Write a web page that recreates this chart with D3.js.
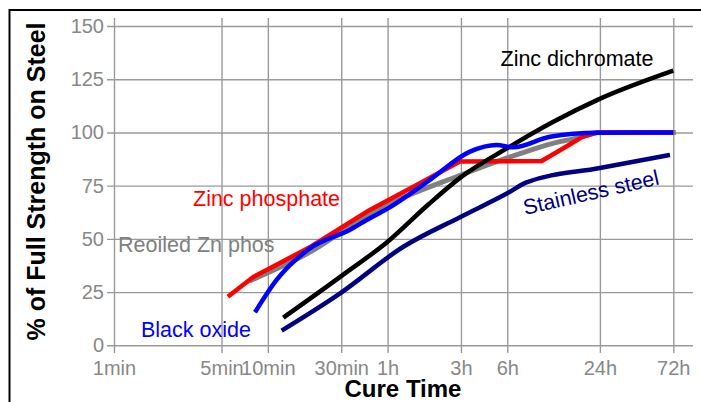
<!DOCTYPE html>
<html>
<head>
<meta charset="utf-8">
<script src="https://cdn.jsdelivr.net/npm/d3@7"></script>
<style>
  html, body { margin: 0; padding: 0; background: #fff; }
  svg { display: block; }
  text { font-family: "Liberation Sans", Arial, Helvetica, sans-serif; }
</style>
</head>
<body>
<svg id="chart" width="701" height="402"></svg>
<script>
// ---- data (time in minutes, value in % of full strength) ----
const xTickValues = [1, 5, 10, 30, 60, 180, 360, 1440, 4320];
const xTickLabels = ["1min", "5min", "10min", "30min", "1h", "3h", "6h", "24h", "72h"];
const yTickValues = [0, 25, 50, 75, 100, 125, 150];

const reoiledTimes  = [7.85, 19, 46, 180, 360, 435, 682, 1069, 1400, 4320];
const reoiledValues = [30.7, 44, 62, 80, 88, 90, 94.5, 97.7, 100, 100];

const zincPhosTimes  = [5.5, 6.5, 8, 11, 19, 46, 100, 177, 602, 900, 1100, 1400, 4320];
const zincPhosValues = [22.8, 26.9, 32, 37.3, 46.3, 63.6, 76.6, 86.3, 86.6, 94, 97.8, 100, 100];

const stainlessTimes  = [12.3, 29.5, 76, 180, 360, 480, 1440, 4110];
const stainlessValues = [6.9, 24.4, 46.3, 60.4, 71.4, 76.5, 83.3, 89.4];

const dichromateTimes  = [12.6, 30, 62, 110, 180, 360, 717, 1390, 4320];
const dichromateValues = [13, 32.5, 49.5, 66, 79, 92.6, 105, 115.3, 129];

const blackOxideTimes  = [8.25, 11.4, 18.8, 34, 46, 62, 113, 206, 307, 394, 682, 1390, 4320];
const blackOxideValues = [15.5, 30.7, 45.6, 54.2, 59.7, 64.8, 77.7, 91, 94.1, 93, 98, 99.9, 100];

const seriesNames  = ["Reoiled Zn phos", "Zinc phosphate", "Stainless steel", "Zinc dichromate", "Black oxide"];
const seriesColors = ["#808080", "#ff0000", "#000080", "#000000", "#0000ff"];

// ---- layout ----
const svg = d3.select("#chart");
const x = d3.scaleLog().domain([1, 4320]).range([114, 673.3]);
const y = d3.scaleLinear().domain([0, 150]).range([345.3, 26]);
const gridLeft = 107, gridRight = 693, gridTop = 18, gridBottom = 353;

// outer frame
svg.append("rect")
  .attr("x", 9.5).attr("y", 10).attr("width", 720).attr("height", 420)
  .attr("fill", "none").attr("stroke", "#000").attr("stroke-width", 2);

// y axis with gridlines
const yAxis = d3.axisLeft(y).tickValues(yTickValues).tickSize(-(gridRight - gridLeft)).tickPadding(3);
const gy = svg.append("g").attr("transform", `translate(${gridLeft},0)`).call(yAxis);
gy.select(".domain").remove();
gy.selectAll("line").attr("stroke", "#9a9a9a").attr("stroke-width", 1.4);
gy.selectAll("text").attr("fill", "#888").attr("font-size", 20)
  .style("font-family", '"Liberation Sans", Arial, sans-serif');

// x axis with gridlines
const xAxis = d3.axisBottom(x).tickValues(xTickValues)
  .tickFormat((d, i) => xTickLabels[i])
  .tickSize(-(gridBottom - gridTop)).tickPadding(8);
const gx = svg.append("g").attr("transform", `translate(0,${gridBottom})`).call(xAxis);
gx.select(".domain").remove();
gx.selectAll("line").attr("stroke", "#9a9a9a").attr("stroke-width", 1.4);
gx.selectAll("text").attr("fill", "#888").attr("font-size", 20)
  .style("font-family", '"Liberation Sans", Arial, sans-serif');

// lines
const allTimes  = [reoiledTimes, zincPhosTimes, stainlessTimes, dichromateTimes, blackOxideTimes];
const allValues = [reoiledValues, zincPhosValues, stainlessValues, dichromateValues, blackOxideValues];
const smooth = d3.line().x(d => x(d[0])).y(d => y(d[1])).curve(d3.curveMonotoneX);
const straight = d3.line().x(d => x(d[0])).y(d => y(d[1])).curve(d3.curveLinear);

allTimes.forEach((ts, i) => {
  const pts = ts.map((t, j) => [t, allValues[i][j]]);
  svg.append("path")
    .datum(pts)
    .attr("d", i === 1 ? straight : smooth)
    .attr("fill", "none")
    .attr("stroke", seriesColors[i])
    .attr("stroke-width", i === 0 ? 5 : 4.5)
    .attr("stroke-linecap", i === 0 ? "square" : "butt")
    .attr("stroke-linejoin", "round");
});

// series labels
const labelFont = 21.5;
function label(txt, color, px, py, rot) {
  return svg.append("text")
    .attr("fill", color).attr("font-size", labelFont)
    .attr("transform", `translate(${px},${py}) rotate(${rot || 0})`)
    .text(txt);
}
label(seriesNames[3], seriesColors[3], 500.5, 65.7);
label(seriesNames[1], seriesColors[1], 193, 206);
label(seriesNames[0], seriesColors[0], 118, 251.7);
label(seriesNames[4], seriesColors[4], 141, 336.7);
label(seriesNames[2], seriesColors[2], 525, 215, -12.8);

// axis titles
svg.append("text")
  .attr("transform", "translate(45,181.5) rotate(-90)")
  .attr("text-anchor", "middle")
  .attr("font-size", 25).attr("font-weight", "bold").attr("fill", "#000")
  .text("% of Full Strength on Steel");
svg.append("text")
  .attr("x", 403).attr("y", 397)
  .attr("text-anchor", "middle")
  .attr("font-size", 24).attr("font-weight", "bold").attr("fill", "#000")
  .text("Cure Time");
</script>
</body>
</html>
